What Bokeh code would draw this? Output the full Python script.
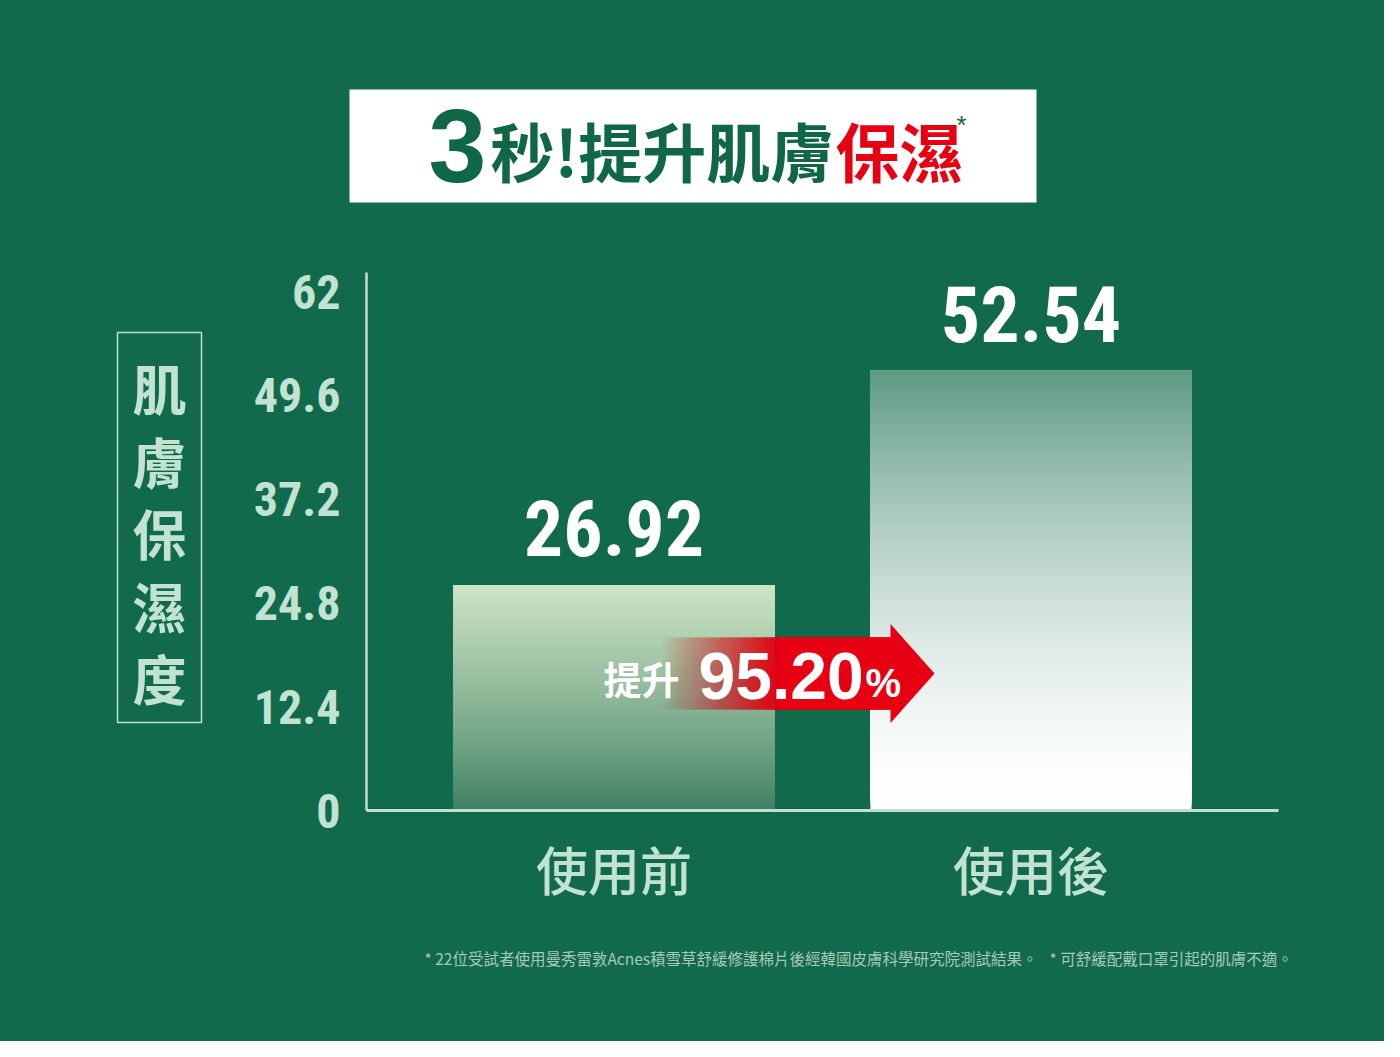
from bokeh.plotting import figure
from bokeh.layouts import column, row
from bokeh.models import FactorRange, Range1d, FixedTicker, CustomJSTickFormatter
from bokeh.core.properties import value
from bokeh.embed import file_html
from bokeh.resources import INLINE

# ---------------- data ----------------
categories = ["使用前", "使用後"]
values = [26.92, 52.54]
y_ticks = [0, 12.4, 24.8, 37.2, 49.6, 62]
increase_prefix = "提升"
increase_value = "95.20"
title_number = "3"
title_green = "秒!提升肌膚"
title_red = "保濕"
y_title_chars = ["肌", "膚", "保", "濕", "度"]
footnote_1 = "* 22位受試者使用曼秀雷敦Acnes積雪草舒緩修護棉片後經韓國皮膚科學研究院測試結果。"
footnote_2 = "* 可舒緩配戴口罩引起的肌膚不適。"

# ---------------- style ----------------
BG = "#126a4c"
TITLE_GREEN = "#0f6746"
MINT = "#c2e2d2"
AXIS = "#bfe0cf"
RED = "#e60012"
W = 1384
TOP_H, MID_H, BOT_H = 262, 678, 101
LEFT_W = 230
FRAME_TOP = 272 - TOP_H            # 10
FRAME_BOTTOM = 810 - TOP_H         # 548
NUMF = "Roboto Condensed, Roboto, sans-serif"
CJK = "Noto Sans CJK TC"
CJK_MED = "Noto Sans CJK TC Medium, Noto Sans CJK TC, sans-serif"
PX_PER_X = 417.0
PX_PER_Y = 8.371


def xd(rx):  # reference-pixel x -> synthetic x of the main frame (placement only)
    return (rx - 374) / PX_PER_X - 0.0935


def yd(ry):  # reference-pixel y -> data y of the main frame (placement only)
    return (818 - ry) / PX_PER_Y


def hex2rgb(h):
    return tuple(int(h[i:i + 2], 16) for i in (1, 3, 5))


def lerp(c0, c1, t):
    a, b = hex2rgb(c0), hex2rgb(c1)
    return "#%02x%02x%02x" % tuple(int(round(x + (y - x) * t)) for x, y in zip(a, b))


def deco_fig(w, h, top_b=0, bottom_b=0):
    f = figure(width=w, height=h, x_range=Range1d(0, w),
               y_range=Range1d(h - bottom_b, top_b),
               output_backend="svg", toolbar_location=None,
               x_axis_location=None, y_axis_location=None,
               min_border_left=0, min_border_right=0,
               min_border_top=top_b, min_border_bottom=bottom_b,
               background_fill_color=BG, border_fill_color=BG)
    f.outline_line_color = None
    f.grid.visible = False
    return f


# ================= main chart =================
p = figure(width=W - LEFT_W, height=MID_H,
           x_range=FactorRange(*categories, range_padding=0.0935),
           y_range=Range1d(0, 64.27),
           output_backend="svg", toolbar_location=None,
           min_border_left=366 - LEFT_W, min_border_right=106,
           min_border_top=FRAME_TOP, min_border_bottom=MID_H - FRAME_BOTTOM,
           background_fill_color=BG, border_fill_color=BG)
p.outline_line_color = BG
p.outline_line_width = 1
p.grid.visible = False

p.yaxis.ticker = FixedTicker(ticks=y_ticks)
p.yaxis.formatter = CustomJSTickFormatter(code="return String(tick)")
p.yaxis.major_label_text_font = NUMF
p.yaxis.major_label_text_font_style = "bold"
p.yaxis.major_label_text_font_size = "48px"
p.yaxis.major_label_text_color = MINT
p.yaxis.major_label_standoff = 20
p.yaxis.axis_line_color = AXIS
p.yaxis.axis_line_width = 2.5

p.xaxis.major_label_text_font = CJK_MED
p.xaxis.major_label_text_font_size = "52px"
p.xaxis.major_label_text_color = MINT
p.xaxis.major_label_standoff = 14
p.xaxis.axis_line_color = AXIS
p.xaxis.axis_line_width = 3

for ax in (p.xaxis, p.yaxis):
    ax.major_tick_line_color = None
    ax.minor_tick_line_color = None

# gradient bars: nested opaque slices (each from its bottom to the bar top)
grads = [("#3c7f61", "#cde4c4", 0.85), ("#ffffff", "#5e9a83", 1.6)]
N = 90
xs, bots, tops, cols = [], [], [], []
for cat, v, (cb, ct, g) in zip(categories, values, grads):
    for j in range(N):
        t = (j + 0.5) / N
        xs.append(cat)
        bots.append(v * j / N)
        tops.append(v)
        cols.append(lerp(cb, ct, t ** g))
p.vbar(x=xs, bottom=bots, top=tops, width=0.77, fill_color=cols, line_color=None)

label_gap = 57 / PX_PER_Y
p.text(x=categories, y=[v + label_gap for v in values],
       text=[f"{v:.2f}" for v in values],
       text_align="center", text_baseline="middle",
       text_color="white", text_font=value(NUMF), text_font_style="bold",
       text_font_size="78px")

# arrow (decoration) - linear fade via nested translucent rects
ay, bh, hh = yd(681), 36 / PX_PER_Y, 49.5 / PX_PER_Y
x_f0, x_f1, x_head, x_tip = xd(670), xd(790), xd(898), xd(942)
M = 40
fl = [x_f0 + (x_f1 - x_f0) * k / M for k in range(M)]
fa = [1.0 / (M - k) for k in range(M)]
p.quad(left=fl, right=[x_head + 0.003] * M, bottom=ay - bh, top=ay + bh,
       fill_color=RED, fill_alpha=fa, line_color=None)
p.patch(x=[x_head, x_tip, x_head], y=[ay + hh, ay, ay - hh], fill_color=RED,
        line_color=None)

p.text(x=[xd(611)], y=[yd(685)], text=[increase_prefix], text_font=value(CJK),
       text_font_style="bold", text_font_size="38px", text_color="white",
       text_baseline="middle")
p.text(x=[xd(706)], y=[yd(683)], text=[increase_value],
       text_font=value("Liberation Sans"), text_font_style="bold",
       text_font_size="66px", text_color="white", text_baseline="middle")
p.text(x=[xd(873)], y=[yd(690)], text=["%"], text_font=value("Liberation Sans"),
       text_font_style="bold", text_font_size="40px", text_color="white",
       text_baseline="middle")

# ================= title strip =================
top = deco_fig(W, TOP_H)
top.quad(left=[349], right=[1036], top=[89], bottom=[202], fill_color="white",
         line_color=None)
top.text(x=[428], y=[145], text=[title_number], text_font=value("Liberation Sans"),
         text_font_style="bold", text_font_size="104px", text_color=TITLE_GREEN,
         text_baseline="middle")
top.text(x=[490], y=[148], text=[title_green], text_font=value(CJK),
         text_font_style="bold", text_font_size="64px", text_color=TITLE_GREEN,
         text_baseline="middle")
top.text(x=[835], y=[148], text=[title_red], text_font=value(CJK),
         text_font_style="bold", text_font_size="64px", text_color=RED,
         text_baseline="middle")
top.text(x=[956], y=[124], text=["*"], text_font=value("Liberation Sans"),
         text_font_size="26px", text_color=TITLE_GREEN, text_baseline="middle")

# ================= y-title strip (same frame geometry as the chart) =================
left = deco_fig(LEFT_W, MID_H, top_b=FRAME_TOP, bottom_b=MID_H - FRAME_BOTTOM)
left.quad(left=[117], right=[201], top=[70], bottom=[460], fill_alpha=0,
          line_color=AXIS, line_width=1.5)
left.text(x=[159] * len(y_title_chars),
          y=[125 + 72.5 * i for i in range(len(y_title_chars))],
          text=y_title_chars, text_font=value(CJK), text_font_style="bold",
          text_font_size="54px", text_color=MINT, text_align="center",
          text_baseline="middle")

# ================= footnote strip =================
bot = deco_fig(W, BOT_H)
bot.text(x=[424, 1049], y=[17, 17], text=[footnote_1, footnote_2],
         text_font=value(CJK), text_font_size="15.5px", text_color="#a7cab7",
         text_baseline="middle")

layout = column(top, row(left, p, styles={"background-color": BG}), bot,
                styles={"background-color": BG})
open("out.html", "w").write(file_html(layout, INLINE))
